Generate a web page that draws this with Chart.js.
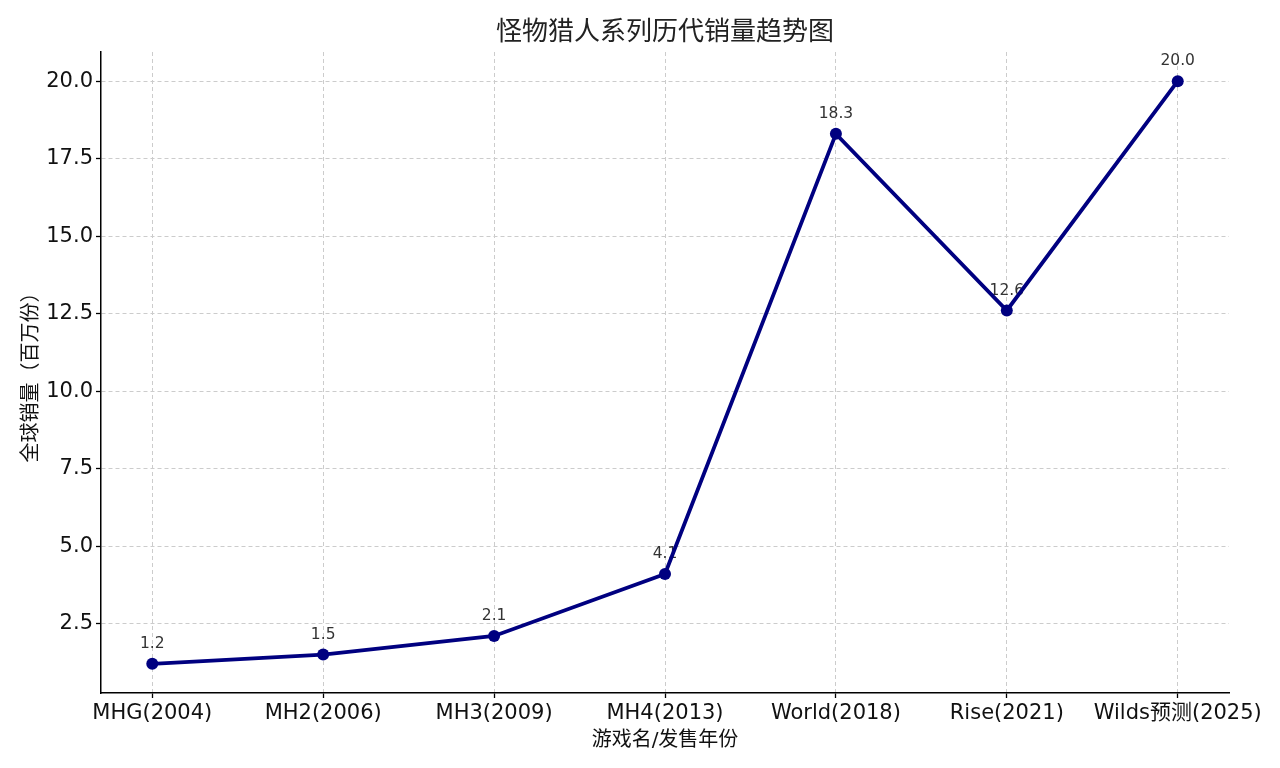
<!DOCTYPE html>
<html>
<head>
<meta charset="utf-8">
<script src="https://cdn.jsdelivr.net/npm/chart.js@4.4.0/dist/chart.umd.min.js"></script>
<style>
  html, body { margin: 0; padding: 0; background: #fff; }
  canvas { display: block; }
</style>
</head>
<body>
<canvas id="myChart" width="1280" height="768"></canvas>
<script>
// datos del gráfico
var chartTitle = '怪物猎人系列历代销量趋势图';
var xTitle = '游戏名/发售年份';
var yTitle = '全球销量（百万份）';
var juegos = ['MHG(2004)', 'MH2(2006)', 'MH3(2009)', 'MH4(2013)', 'World(2018)', 'Rise(2021)', 'Wilds预测(2025)'];
var ventas = [1.2, 1.5, 2.1, 4.1, 18.3, 12.6, 20.0];
var yTicks = [2.5, 5.0, 7.5, 10.0, 12.5, 15.0, 17.5, 20.0];

var fuente = '"DejaVu Sans", "Noto Sans CJK SC", sans-serif';

// titulo centrado sobre el area del grafico
var tituloPlugin = {
    id: 'titulo',
    afterDraw: function (chart) {
        var ctx = chart.ctx;
        var area = chart.chartArea;
        ctx.save();
        ctx.font = '26px ' + fuente;
        ctx.fillStyle = '#222';
        ctx.textAlign = 'center';
        ctx.textBaseline = 'middle';
        ctx.fillText(chartTitle, (area.left + area.right) / 2, 33);
        ctx.restore();
    }
};

// etiquetas de valor encima de cada punto
var etiquetasPlugin = {
    id: 'etiquetas',
    beforeDatasetsDraw: function (chart) {
        var ctx = chart.ctx;
        var meta = chart.getDatasetMeta(0);
        ctx.save();
        ctx.font = '15.5px ' + fuente;
        ctx.fillStyle = '#333';
        ctx.textAlign = 'center';
        ctx.textBaseline = 'middle';
        meta.data.forEach(function (p, i) {
            ctx.fillText(ventas[i].toFixed(1), p.x, p.y - 20);
        });
        ctx.restore();
    }
};

var ctx = document.getElementById('myChart').getContext('2d');
var myChart = new Chart(ctx, {
    type: 'line',
    data: {
        datasets: [{
            data: ventas.map(function (v, i) { return { x: i, y: v }; }),
            borderColor: '#000080',
            backgroundColor: '#000080',
            borderWidth: 3.8,
            pointRadius: 6,
            pointBorderWidth: 0,
            tension: 0,
            fill: false
        }]
    },
    options: {
        responsive: false,
        animation: false,
        devicePixelRatio: 1,
        events: [],
        layout: { padding: { top: 52, right: 51, bottom: 0, left: 0 } },
        plugins: {
            legend: { display: false },
            tooltip: { enabled: false }
        },
        scales: {
            x: {
                type: 'linear',
                min: -0.3,
                max: 6.3,
                afterBuildTicks: function (scale) {
                    scale.ticks = juegos.map(function (_, i) { return { value: i }; });
                },
                afterFit: function (scale) {
                    scale.height = 75;
                    scale.paddingLeft = 0;
                    scale.paddingRight = 0;
                },
                ticks: {
                    autoSkip: false,
                    maxRotation: 0,
                    padding: 3,
                    color: '#111',
                    font: { family: fuente, size: 21 },
                    callback: function (v) { return juegos[v]; }
                },
                grid: {
                    color: '#cccccc',
                    lineWidth: 1,
                    tickColor: '#000',
                    tickLength: 5,
                    tickWidth: 1.3
                },
                border: { color: '#000', width: 1.5, dash: [4, 3] },
                title: {
                    display: true,
                    text: xTitle,
                    color: '#111',
                    font: { family: fuente, size: 20 },
                    padding: { top: 0, bottom: 15 }
                }
            },
            y: {
                min: 0.26,
                max: 20.94,
                afterBuildTicks: function (scale) {
                    scale.ticks = yTicks.map(function (v) { return { value: v }; });
                },
                afterFit: function (scale) {
                    scale.width = 101;
                    scale.paddingTop = 0;
                    scale.paddingBottom = 0;
                },
                ticks: {
                    padding: 3,
                    color: '#111',
                    font: { family: fuente, size: 21 },
                    callback: function (v) { return Number(v).toFixed(1); }
                },
                grid: {
                    color: '#cccccc',
                    lineWidth: 1,
                    tickColor: '#000',
                    tickLength: 5,
                    tickWidth: 1.3
                },
                border: { color: '#000', width: 1.5, dash: [4, 3] },
                title: {
                    display: true,
                    text: yTitle,
                    color: '#111',
                    font: { family: fuente, size: 20 },
                    padding: { top: 20, bottom: 0 }
                }
            }
        }
    },
    plugins: [tituloPlugin, etiquetasPlugin]
});
</script>
</body>
</html>
